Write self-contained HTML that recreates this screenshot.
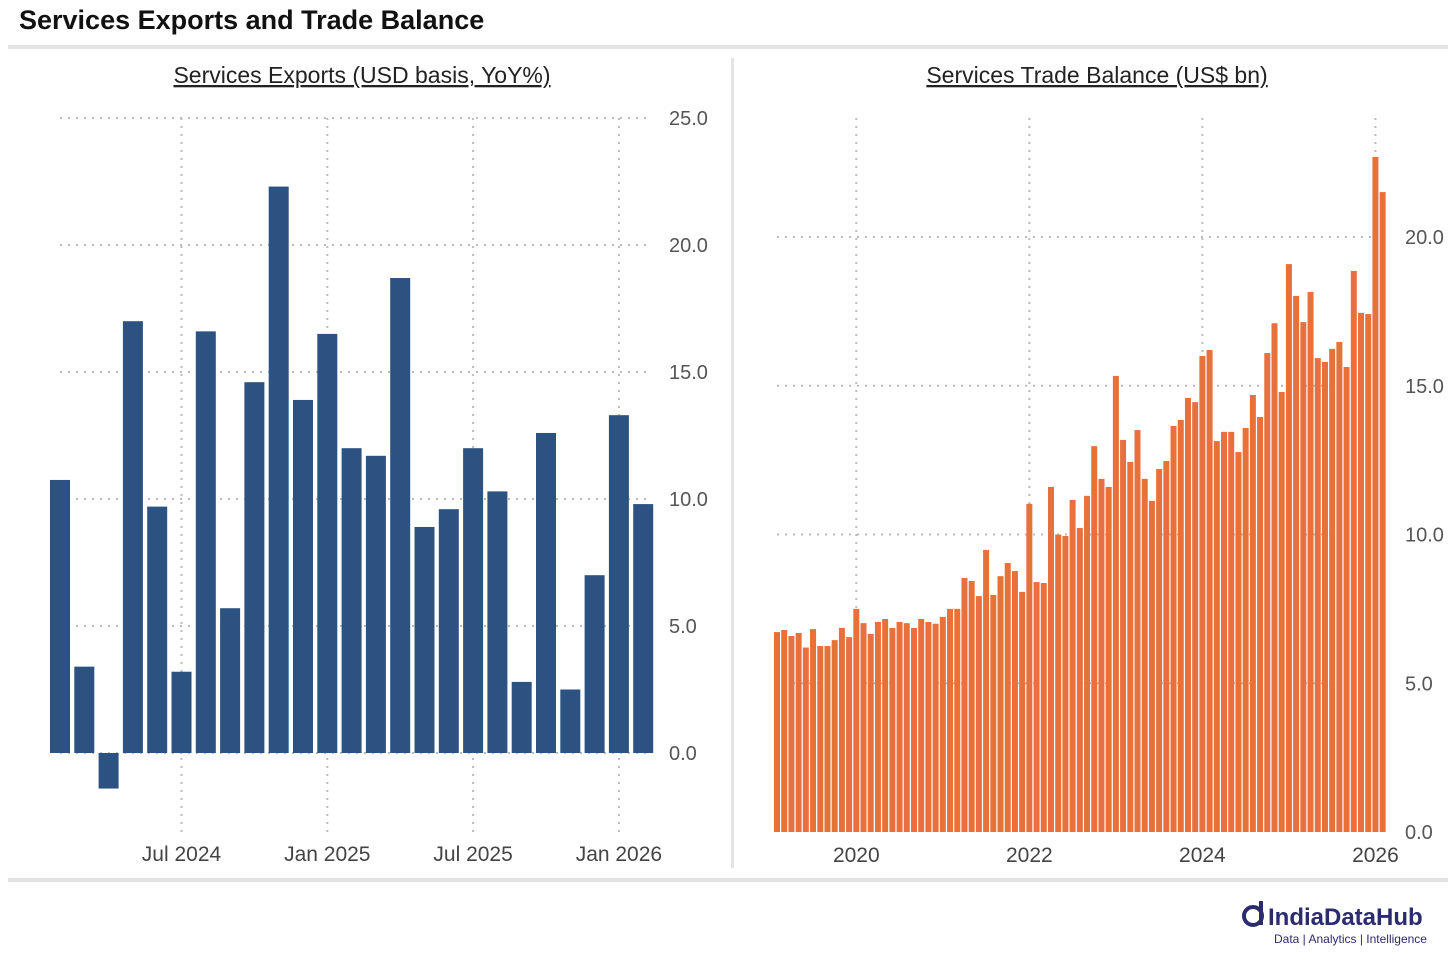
<!DOCTYPE html>
<html><head><meta charset="utf-8"><style>
body{margin:0;width:1456px;height:955px;background:#fff;font-family:"Liberation Sans",sans-serif;overflow:hidden;position:relative}
.t{position:absolute}
</style></head><body>
<div class="t" style="left:19px;top:5px;font-size:27px;font-weight:bold;color:#111">Services Exports and Trade Balance</div>
<div class="t" style="left:8px;top:45px;width:1440px;height:4px;background:#e4e4e4"></div>
<div class="t" style="left:8px;top:878px;width:1440px;height:4px;background:#e4e4e4"></div>
<div class="t" style="left:731px;top:58px;width:3px;height:810px;background:#e4e4e4"></div>
<svg class="t" style="left:0;top:0" width="1456" height="955">
<text x="362" y="83" text-anchor="middle" font-size="23" fill="#222" text-decoration="underline">Services Exports (USD basis, YoY%)</text>
<text x="1097" y="83" text-anchor="middle" font-size="23" fill="#222" text-decoration="underline">Services Trade Balance (US$ bn)</text>
<g id="L"></g><g id="R"></g>
<g>
<circle cx="1253" cy="916" r="9" fill="none" stroke="#2b2b6e" stroke-width="4"/>
<rect x="1259" y="901" width="4" height="24" fill="#2b2b6e"/>
<text x="1268" y="925" font-size="24" font-weight="bold" fill="#2b2b6e">IndiaDataHub</text>
<text x="1274" y="943" font-size="12" fill="#2b2b6e">Data | Analytics | Intelligence</text>
</g>
</svg>
<script>
const leftCats=["2024-02","2024-03","2024-04","2024-05","2024-06","2024-07","2024-08","2024-09","2024-10","2024-11","2024-12","2025-01","2025-02","2025-03","2025-04","2025-05","2025-06","2025-07","2025-08","2025-09","2025-10","2025-11","2025-12","2026-01","2026-02"];
const leftVals=[10.75,3.4,-1.4,17.0,9.7,3.2,16.6,5.7,14.6,22.3,13.9,16.5,12.0,11.7,18.7,8.9,9.6,12.0,10.3,2.8,12.6,2.5,7.0,13.3,9.8];
const leftYTicks=[0,5,10,15,20,25];
const leftXTicks=["Jul 2024","Jan 2025","Jul 2025","Jan 2026"];
const leftXTickIdx=[5,11,17,23];
const rightVals=[6.72,6.79,6.59,6.69,6.2,6.82,6.25,6.25,6.45,6.86,6.55,7.5,7.02,6.66,7.06,7.16,6.86,7.06,7.02,6.86,7.16,7.06,7.0,7.23,7.5,7.5,8.54,8.44,7.93,9.48,7.97,8.6,9.04,8.77,8.07,11.03,8.4,8.37,11.6,10.0,9.95,11.16,10.22,11.3,12.97,11.87,11.6,15.33,13.18,12.44,13.51,11.87,11.13,12.2,12.47,13.65,13.85,14.59,14.45,16.0,16.2,13.14,13.45,13.45,12.77,13.58,14.69,13.95,16.1,17.1,14.79,19.09,18.02,17.14,18.15,15.93,15.8,16.24,16.47,15.63,18.86,17.45,17.41,22.69,21.51];
const rightStart="2019-02";
const rightYTicks=[0,5,10,15,20];
const rightXTicks=["2020","2022","2024","2026"];
const rightXTickIdx=[11,35,59,83];
const NS="http://www.w3.org/2000/svg";
function mk(p,tag,a){const e=document.createElementNS(NS,tag);for(const k in a)e.setAttribute(k,a[k]);p.appendChild(e);return e;}
// Left
(function(){
const g=document.getElementById('L');
const y=v=>753-v*25.4, x=i=>60+i*24.3;
leftYTicks.forEach(t=>{const l=mk(g,'line',{x1:60,x2:652,y1:y(t),y2:y(t),stroke:'#bbb','stroke-width':2,'stroke-dasharray':'2 6'});

const tx=mk(g,'text',{x:669,y:y(t)+7,'font-size':20,fill:'#555'});tx.textContent=t.toFixed(1);
});
leftXTickIdx.forEach((i,k)=>{const l=mk(g,'line',{x1:x(i),x2:x(i),y1:118,y2:832,stroke:'#bbb','stroke-width':2,'stroke-dasharray':'2 6'});

const tx=mk(g,'text',{x:x(i),y:861,'font-size':21,fill:'#444','text-anchor':'middle'});tx.textContent=leftXTicks[k];
});
leftVals.forEach((v,i)=>{const r=mk(g,'rect',{x:x(i)-10,y:Math.min(y(v),y(0)),width:20,height:Math.abs(y(v)-y(0)),fill:'#2c5282'});
});
})();
// Right
(function(){
const g=document.getElementById('R');
const y=v=>832-v*29.75, x=i=>777+i*7.21;
rightYTicks.forEach(t=>{if(t>0){const l=mk(g,'line',{x1:777,x2:1372,y1:y(t),y2:y(t),stroke:'#bbb','stroke-width':2,'stroke-dasharray':'2 6'});
}
const tx=mk(g,'text',{x:1405,y:y(t)+7,'font-size':20,fill:'#555'});tx.textContent=t.toFixed(1);
});
rightXTickIdx.forEach((i,k)=>{const l=mk(g,'line',{x1:x(i),x2:x(i),y1:118,y2:832,stroke:'#bbb','stroke-width':2,'stroke-dasharray':'2 6'});

const tx=mk(g,'text',{x:x(i),y:862,'font-size':21,fill:'#444','text-anchor':'middle'});tx.textContent=rightXTicks[k];
});
rightVals.forEach((v,i)=>{const r=mk(g,'rect',{x:x(i)-3,y:y(v),width:6,height:y(0)-y(v),fill:'#e8703a'});
});
})();
</script>
</body></html>
